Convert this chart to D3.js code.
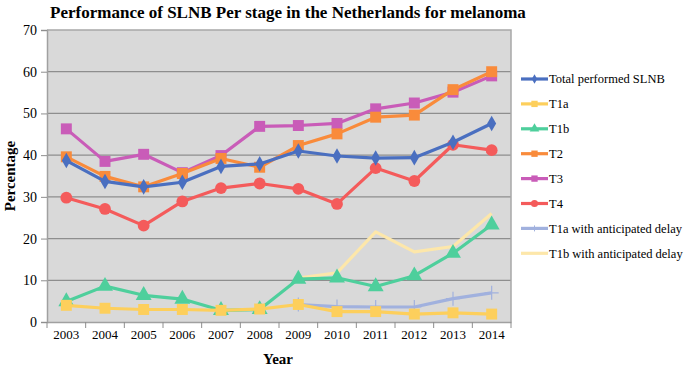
<!DOCTYPE html>
<html>
<head>
<meta charset="utf-8">
<script src="https://cdn.jsdelivr.net/npm/d3@7"></script>
<style>
  body { margin: 0; background: #fff; }
</style>
</head>
<body>
<div class="container"></div>
<script>
const WIDTH = 685;
const HEIGHT = 369;
const MARGIN = { top: 30, right: 174, bottom: 47, left: 47 };
const INNER_WIDTH = WIDTH - MARGIN.left - MARGIN.right;
const INNER_HEIGHT = HEIGHT - MARGIN.top - MARGIN.bottom;
const FONT = '"Liberation Serif", "Times New Roman", Times, serif';

var years = [2003, 2004, 2005, 2006, 2007, 2008, 2009, 2010, 2011, 2012, 2013, 2014];
var yTicks = [0, 10, 20, 30, 40, 50, 60, 70];

var total = [38.7, 33.7, 32.4, 33.5, 37.3, 37.9, 41.0, 39.8, 39.3, 39.4, 43.1, 47.6];
var t1a = [4.0, 3.3, 3.0, 3.0, 2.8, 3.1, 4.2, 2.5, 2.5, 1.9, 2.2, 1.9];
var t1b = [4.9, 8.6, 6.4, 5.5, 2.8, 3.0, 10.3, 10.6, 8.5, 11.1, 16.5, 23.3];
var t2 = [39.6, 34.9, 32.4, 35.6, 39.2, 37.1, 42.3, 45.1, 49.1, 49.6, 55.7, 60.0];
var t3 = [46.3, 38.5, 40.2, 35.8, 39.9, 46.9, 47.1, 47.6, 51.1, 52.5, 55.1, 59.0];
var t4 = [29.8, 27.1, 23.1, 28.9, 32.1, 33.2, 31.9, 28.3, 36.9, 33.8, 42.5, 41.2];
var t1aDelay = [null, null, null, null, null, null, 4.2, 3.7, 3.6, 3.6, 5.6, 7.0];
var t1bDelay = [null, null, null, null, null, null, 10.5, 11.8, 21.6, 16.8, 18.1, 26.0];

var series = [
  { name: 'Total performed SLNB', values: total, color: '#4a6fc0', marker: 'diamond' },
  { name: 'T1a', values: t1a, color: '#fdcf5c', marker: 'square' },
  { name: 'T1b', values: t1b, color: '#4ecf9c', marker: 'triangle' },
  { name: 'T2', values: t2, color: '#f98b3b', marker: 'square' },
  { name: 'T3', values: t3, color: '#c95cb8', marker: 'square' },
  { name: 'T4', values: t4, color: '#f45b5b', marker: 'circle' },
  { name: 'T1a with anticipated delay', values: t1aDelay, color: '#a1b1de', marker: 'cross' },
  { name: 'T1b with anticipated delay', values: t1bDelay, color: '#fde7aa', marker: 'none' }
];

function translate(x, y) {
  return 'translate(' + x + ',' + y + ')';
}

var svg = d3.select('.container').append('svg')
  .attr('width', WIDTH)
  .attr('height', HEIGHT);

var x = d3.scaleBand().domain(years).range([0, INNER_WIDTH]);
var y = d3.scaleLinear().domain([0, 70]).range([INNER_HEIGHT, 0]);

var chart = svg.append('g').attr('transform', translate(MARGIN.left, MARGIN.top));

chart.append('rect')
  .attr('width', INNER_WIDTH)
  .attr('height', INNER_HEIGHT)
  .attr('fill', '#d9d9d9');

// gridlines
chart.append('g')
  .selectAll('line')
  .data(yTicks.slice(1, -1))
  .enter().append('line')
  .attr('x1', 0).attr('x2', INNER_WIDTH)
  .attr('y1', function (d) { return y(d); })
  .attr('y2', function (d) { return y(d); })
  .attr('stroke', '#8e8e8e')
  .attr('stroke-width', 1.2);

// frame top / right
chart.append('path')
  .attr('d', 'M0,0H' + INNER_WIDTH + 'V' + INNER_HEIGHT)
  .attr('fill', 'none')
  .attr('stroke', '#a8a8a8')
  .attr('stroke-width', 1.5);

var yAxis = chart.append('g')
  .call(d3.axisLeft(y).tickValues(yTicks).tickSize(6).tickPadding(4));
yAxis.selectAll('text').style('font-size', '14px');

var xAxis = chart.append('g')
  .attr('transform', translate(0, INNER_HEIGHT))
  .call(d3.axisBottom(x).tickSize(0).tickPadding(8));
xAxis.selectAll('text').style('font-size', '13px');
// ticks between categories
xAxis.selectAll('.sep')
  .data(years.concat([null]))
  .enter().append('line')
  .attr('x1', function (d, i) { return i * x.step(); })
  .attr('x2', function (d, i) { return i * x.step(); })
  .attr('y1', 0).attr('y2', 6)
  .attr('stroke', '#8e8e8e');

svg.selectAll('.domain').attr('stroke', '#a0a0a0').attr('stroke-width', 1.5);
svg.selectAll('.tick line').attr('stroke', '#8e8e8e');

var line = d3.line()
  .defined(function (d) { return d !== null; })
  .x(function (d, i) { return x(years[i]) + x.bandwidth() / 2; })
  .y(function (d) { return y(d); });

var symbols = {
  diamond: d3.symbol().type(d3.symbolDiamond).size(70),
  square: d3.symbol().type(d3.symbolSquare).size(120),
  triangle: d3.symbol().type(d3.symbolTriangle).size(110),
  circle: d3.symbol().type(d3.symbolCircle).size(110)
};

series.slice().reverse().forEach(function (s) {
  var g = chart.append('g');
  g.append('path')
    .attr('d', line(s.values))
    .attr('fill', 'none')
    .attr('stroke', s.color)
    .attr('stroke-width', 3.2)
    .attr('stroke-linejoin', 'round');
  if (s.marker === 'none') return;
  var pts = s.values.map(function (v, i) { return { v: v, i: i }; })
    .filter(function (d) { return d.v !== null; });
  g.selectAll('path.m')
    .data(pts)
    .enter().append('path')
    .attr('class', 'm')
    .attr('transform', function (d) {
      return translate(x(years[d.i]) + x.bandwidth() / 2, y(d.v));
    })
    .attr('d', function () {
      if (s.marker === 'cross') {
        return 'M-7,0H7M0,-7V7';
      }
      return symbols[s.marker]();
    })
    .attr('fill', s.marker === 'cross' ? 'none' : s.color)
    .attr('stroke', s.marker === 'cross' ? s.color : 'none')
    .attr('stroke-width', 1.2);
});

// title
svg.append('text')
  .attr('x', 288)
  .attr('y', 18)
  .attr('text-anchor', 'middle')
  .style('font-size', '17px')
  .style('font-weight', 'bold')
  .text('Performance of SLNB Per stage in the Netherlands for melanoma');

svg.append('text')
  .attr('transform', translate(15, MARGIN.top + INNER_HEIGHT / 2) + ' rotate(-90)')
  .attr('text-anchor', 'middle')
  .style('font-size', '15px')
  .style('font-weight', 'bold')
  .text('Percentage');

svg.append('text')
  .attr('x', 278)
  .attr('y', 364)
  .attr('text-anchor', 'middle')
  .style('font-size', '15px')
  .style('font-weight', 'bold')
  .text('Year');

// legend
var legend = svg.append('g').attr('transform', translate(521, 79));
var items = legend.selectAll('g')
  .data(series)
  .enter().append('g')
  .attr('transform', function (d, i) { return translate(0, i * 24.9); });
items.append('line')
  .attr('x1', 0).attr('x2', 27)
  .attr('stroke', function (d) { return d.color; })
  .attr('stroke-width', 3.2);
items.filter(function (d) { return d.marker !== 'none' && d.marker !== 'cross'; })
  .append('path')
  .attr('transform', translate(13.5, 0))
  .attr('d', function (d) {
    return d3.symbol().type({
      diamond: d3.symbolDiamond, square: d3.symbolSquare,
      triangle: d3.symbolTriangle, circle: d3.symbolCircle
    }[d.marker]).size(d.marker === 'diamond' ? 25 : 40)();
  })
  .attr('fill', function (d) { return d.color; });
items.filter(function (d) { return d.marker === 'cross'; })
  .append('path')
  .attr('transform', translate(13.5, 0))
  .attr('d', 'M-3,0H3M0,-3V3')
  .attr('stroke', function (d) { return d.color; });
items.append('text')
  .attr('x', 28)
  .attr('dy', '0.35em')
  .style('font-size', '12.5px')
  .text(function (d) { return d.name; });

svg.selectAll('text')
  .style('font-family', FONT)
  .style('fill', '#000');
</script>
</body>
</html>
